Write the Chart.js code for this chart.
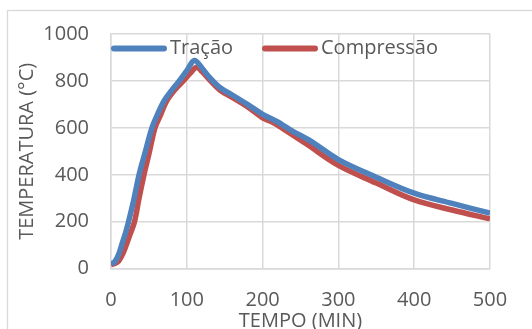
<!DOCTYPE html>
<html>
<head>
<meta charset="utf-8">
<script src="https://cdn.jsdelivr.net/npm/chart.js@4"></script>
<style>
  html, body { margin: 0; padding: 0; background: #fff; overflow: hidden; }
  #wrap { width: 532px; height: 340px; }
</style>
</head>
<body>
<div id="wrap"><canvas id="grafico" width="532" height="340"></canvas></div>
<script>
// dados: tempo (min) x temperatura (°C)
const tempoTracao = [0, 5, 10, 15, 20, 25, 30, 37, 45, 54, 62, 70, 80, 90, 100, 110, 120, 130, 144, 160, 180, 200, 220, 230, 240, 263, 300, 350, 400, 450, 500];
const tempTracao  = [20, 30, 60, 110, 162, 225, 292, 400, 495, 600, 662, 715, 760, 800, 844, 887, 855, 815, 771, 740, 700, 658, 625, 605, 585, 545, 465, 390, 322, 278, 237];

const tempoCompressao = [0, 5, 10, 15, 20, 25, 31, 37, 43.5, 50, 58, 65, 73.5, 85, 95.4, 105, 113, 120, 130, 144, 160, 180, 200, 214, 230, 258, 300, 350, 400, 450, 500];
const tempCompressao  = [18, 22, 32, 60, 100, 145, 200, 300, 400, 488, 600, 652, 715, 765, 800, 835, 858, 840, 805, 760, 730, 690, 643, 623, 590, 531, 440, 365, 293, 250, 212];

const ticksY = [0, 200, 400, 600, 800, 1000];
const ticksX = [0, 100, 200, 300, 400, 500];

const nomes = ['Tração', 'Compressão'];
const cores = ['#4f81bd', '#c0504d'];

const fonte = '"Open Sans", sans-serif';
const cinza = '#595959';
const grade = '#d9d9d9';

function pontos(xs, ys) {
  return xs.map((x, i) => ({x: x, y: ys[i]}));
}

// moldura externa e legenda desenhada dentro da área do gráfico
const extras = {
  id: 'extras',
  beforeDraw(chart) {
    const c = chart.ctx;
    c.save();
    c.strokeStyle = grade;
    c.lineWidth = 1.3;
    c.strokeRect(7.5, 10.5, 700, 500);
    c.restore();
  },
  beforeDatasetDraw(chart, args) {
    if (args.index === 1) {
      chart.ctx.save();
      chart.ctx.shadowColor = 'rgba(255,255,255,1)';
      chart.ctx.shadowBlur = 3;
    }
  },
  afterDatasetDraw(chart, args) {
    if (args.index === 1) chart.ctx.restore();
  },
  afterDraw(chart) {
    const c = chart.ctx;
    const pos = [112, 263];
    c.save();
    c.font = '20px ' + fonte;
    c.textBaseline = 'middle';
    chart.data.datasets.forEach((ds, i) => {
      const x0 = pos[i];
      c.strokeStyle = ds.borderColor;
      c.lineWidth = 6;
      c.lineCap = 'round';
      c.beginPath();
      c.moveTo(x0 + 2, 48.5);
      c.lineTo(x0 + 52, 48.5);
      c.stroke();
      c.fillStyle = cinza;
      c.fillText(ds.label, x0 + 58, 48);
    });
    c.restore();
  }
};

const ctx = document.getElementById('grafico').getContext('2d');
const grafico = new Chart(ctx, {
  type: 'line',
  data: {
    datasets: [{
      label: nomes[0],
      data: pontos(tempoTracao, tempTracao),
      borderColor: cores[0],
      backgroundColor: cores[0],
      borderWidth: 5.5,
      pointRadius: 0,
      tension: 0.35,
      fill: false
    }, {
      label: nomes[1],
      data: pontos(tempoCompressao, tempCompressao),
      borderColor: cores[1],
      backgroundColor: cores[1],
      borderWidth: 5.5,
      pointRadius: 0,
      tension: 0.35,
      fill: false
    }]
  },
  options: {
    responsive: false,
    animation: false,
    layout: { padding: { top: 33, right: 42, left: 0, bottom: 0 } },
    plugins: {
      legend: { display: false },
      tooltip: { enabled: false }
    },
    scales: {
      x: {
        type: 'linear',
        min: 0,
        max: 500,
        afterBuildTicks: s => { s.ticks = ticksX.map(v => ({value: v})); },
        afterFit: s => { s.height = 71.3; },
        grid: { color: grade, lineWidth: 1.5, drawTicks: false },
        border: { color: grade, width: 1.5 },
        ticks: { color: cinza, font: { family: fonte, size: 20 }, padding: 20, maxRotation: 0, callback: v => String(v) },
        title: {
          display: true,
          text: 'TEMPO (MIN)',
          color: cinza,
          font: { family: fonte, size: 20 },
          padding: { top: 0, bottom: 7 }
        }
      },
      y: {
        min: 0,
        max: 1000,
        afterBuildTicks: s => { s.ticks = ticksY.map(v => ({value: v})); },
        afterFit: s => { s.width = 111; },
        grid: { color: grade, lineWidth: 1.5, drawTicks: false },
        border: { color: grade, width: 1.5 },
        ticks: { color: cinza, font: { family: fonte, size: 20 }, padding: 22, callback: v => String(v) },
        title: {
          display: true,
          text: 'TEMPERATURA (°C)',
          color: cinza,
          font: { family: fonte, size: 20 },
          padding: { top: 15, bottom: 0 }
        }
      }
    }
  },
  plugins: [extras]
});
</script>
</body>
</html>
